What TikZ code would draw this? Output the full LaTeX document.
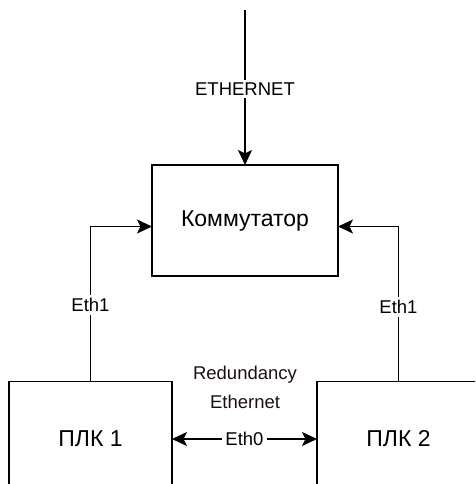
\documentclass[tikz,border=0pt]{standalone}
\usepackage{fontspec}
\setmainfont{Liberation Sans}
\usetikzlibrary{arrows.meta}
\definecolor{notetext}{RGB}{30,15,15}
\begin{document}
\begin{tikzpicture}[x=1pt,y=-1pt,
  box/.style={draw, line width=1.7pt, fill=white, inner sep=0pt, outer sep=0pt,
    font=\fontsize{23}{27}\selectfont},
  lbl/.style={fill=white, inner sep=3pt, font=\fontsize{18.5}{22}\selectfont},
  tip/.tip={Stealth[length=15pt,width=14pt,inset=3.5pt]},
  link/.style={line width=1.7pt, -tip},
  biglink/.style={line width=1.7pt, tip-tip}
]
\useasboundingbox (0,0) rectangle (475,484);
\clip (0,0) rectangle (475,484);

% switch and the two controllers
\node[box, minimum width=186pt, minimum height=111pt] (sw) at (245,220.5) {Коммутатор};
\node[box, minimum width=163pt, minimum height=115pt] (plc1) at (90.5,439) {ПЛК 1};
\node[box, minimum width=163pt, minimum height=115pt] (plc2) at (398.5,439) {ПЛК 2};

% uplink
\coordinate (src) at (245,10);
\draw[link] (src) -- node[lbl, pos=0.51] (ethin) {ETHERNET} (sw.north);

% controller uplinks to the switch
\draw[link] (plc1.north) |- node[lbl, pos=0.246] (eth1a) {Eth1} ([yshift=-6pt]sw.west);
\draw[link] (plc2.north) |- node[lbl, pos=0.24] (eth1b) {Eth1} ([yshift=-6pt]sw.east);

% redundancy link between the controllers
\draw[biglink] (plc1.east) -- node[lbl] (eth0) {Eth0} (plc2.west);
\node[font=\fontsize{18.5}{29}\selectfont, align=center, text=notetext] (note) at (245,387) {Redundancy\\Ethernet};
\end{tikzpicture}
\end{document}
